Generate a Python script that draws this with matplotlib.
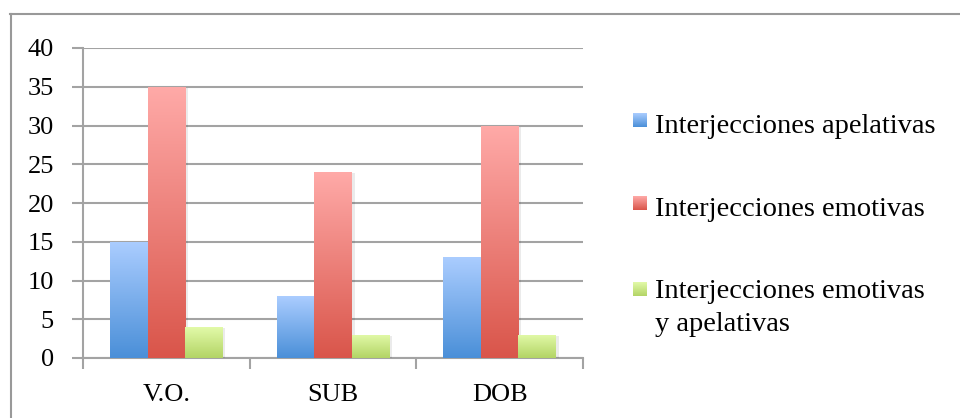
import numpy as np
import matplotlib
matplotlib.use("Agg")
import matplotlib.pyplot as plt
from matplotlib.patches import Rectangle
from matplotlib.lines import Line2D
from matplotlib.image import BboxImage
from matplotlib.transforms import Bbox, TransformedBbox
from matplotlib.legend_handler import HandlerBase
import matplotlib.patheffects as pe

# -----------------------------
# DATA
# -----------------------------
categories = ["V.O.", "SUB", "DOB"]
series_names = ["Interjecciones apelativas",
                "Interjecciones emotivas",
                "Interjecciones emotivas\ny apelativas"]
apelativas = [15, 8, 13]
emotivas = [35, 24, 30]
emotivas_apelativas = [4, 3, 3]
y_ticks = [0, 5, 10, 15, 20, 25, 30, 35, 40]

# top / bottom colours of each gradient
grad_colors = [("#abcdff", "#4a8fd8"),
               ("#ffaaa8", "#d9554a"),
               ("#e2faa9", "#b3d465")]

plt.rcParams['font.family'] = ['Liberation Serif', 'DejaVu Serif']
FS = 19
LEG_FS = 20.5
GRID = "#a3a3a3"


def gradient_img(top, bottom, n=256):
    c0 = np.array(matplotlib.colors.to_rgb(top))
    c1 = np.array(matplotlib.colors.to_rgb(bottom))
    t = np.linspace(0, 1, n)[:, None]
    return (c0 * (1 - t) + c1 * t)[:, None, :]


class GradientHandler(HandlerBase):
    def __init__(self, top, bottom):
        super().__init__()
        self.top, self.bottom = top, bottom

    def create_artists(self, legend, orig_handle, xdescent, ydescent,
                       width, height, fontsize, trans):
        s = 14 / 100 * 72  # square side in points
        x0 = -xdescent + width - s
        y0 = -ydescent + (height - s) / 2 + 2
        # keep the swatch next to the first line of a wrapped label
        extra_lines = orig_handle.get_label().count("\n")
        y0 += extra_lines * 16 / 100 * 72
        bb = TransformedBbox(Bbox.from_bounds(x0, y0, s, s), trans)
        img = BboxImage(bb, interpolation="bilinear")
        img.set_data(gradient_img(self.top, self.bottom))
        return [img]


fig = plt.figure(figsize=(9.6, 4.18), dpi=100)
ax = fig.add_axes([83 / 960, 1 - 358 / 418, 500 / 960, 310 / 418])

x = np.arange(len(categories))
width = 0.225
offsets = [-width, 0, width]
all_series = [apelativas, emotivas, emotivas_apelativas]

handles = []
for vals, off, (top, bottom), name in zip(all_series, offsets, grad_colors, series_names):
    bars = ax.bar(x + off, vals, width, color="white", edgecolor="none", zorder=3)
    for b in bars:
        b.set_path_effects([pe.SimplePatchShadow(offset=(2, -1), shadow_rgbFace="#000000", alpha=0.08),
                            pe.Normal()])
        bx, by = b.get_x(), b.get_y()
        im = ax.imshow(gradient_img(top, bottom), extent=[bx, bx + b.get_width(), by, by + b.get_height()],
                       aspect="auto", interpolation="bilinear", zorder=4)
        im.set_clip_path(b)
    handles.append(Rectangle((0, 0), 1, 1, label=name))

ax.set_xlim(-0.5, 2.5)
ax.set_ylim(0, 40)
ax.set_yticks(y_ticks)
ax.set_yticklabels([str(v) for v in y_ticks], fontsize=FS)
ax.set_xticks([-0.5, 0.5, 1.5, 2.5])
ax.set_xticklabels([])
ax.set_xticks(x, minor=True)
ax.set_xticklabels(categories, minor=True, fontsize=FS)
ax.tick_params(axis="x", which="minor", length=0, pad=18.5)
ax.tick_params(axis="x", which="major", length=8, width=1.5, color=GRID, direction="out")
ax.tick_params(axis="y", length=8, width=1.5, color=GRID, direction="out", pad=13)
ax.yaxis.grid(True, color=GRID, linewidth=1.5, zorder=0)
ax.set_axisbelow(True)
for side in ["top", "right"]:
    ax.spines[side].set_visible(False)
for side in ["left", "bottom"]:
    ax.spines[side].set_color(GRID)
    ax.spines[side].set_linewidth(1.5)

leg = ax.legend(handles=handles, loc="upper left", bbox_to_anchor=(633 / 960, 1 - 113 / 418),
                bbox_transform=fig.transFigure, frameon=False, fontsize=LEG_FS,
                handler_map={h: GradientHandler(*c) for h, c in zip(handles, grad_colors)},
                handlelength=0.49, handletextpad=0.28, labelspacing=2.0, borderaxespad=0,
                borderpad=0)
for t in leg.get_texts():
    t.set_linespacing(1.45)

# outer chart frame (top and left edges)
fig.add_artist(Line2D([10 / 960, 1], [1 - 13.5 / 418] * 2, color="#999999", lw=1.5, transform=fig.transFigure))
fig.add_artist(Line2D([10.5 / 960] * 2, [0, 1 - 13.5 / 418], color="#999999", lw=1.5, transform=fig.transFigure))

fig.savefig("out.png", dpi=100)
